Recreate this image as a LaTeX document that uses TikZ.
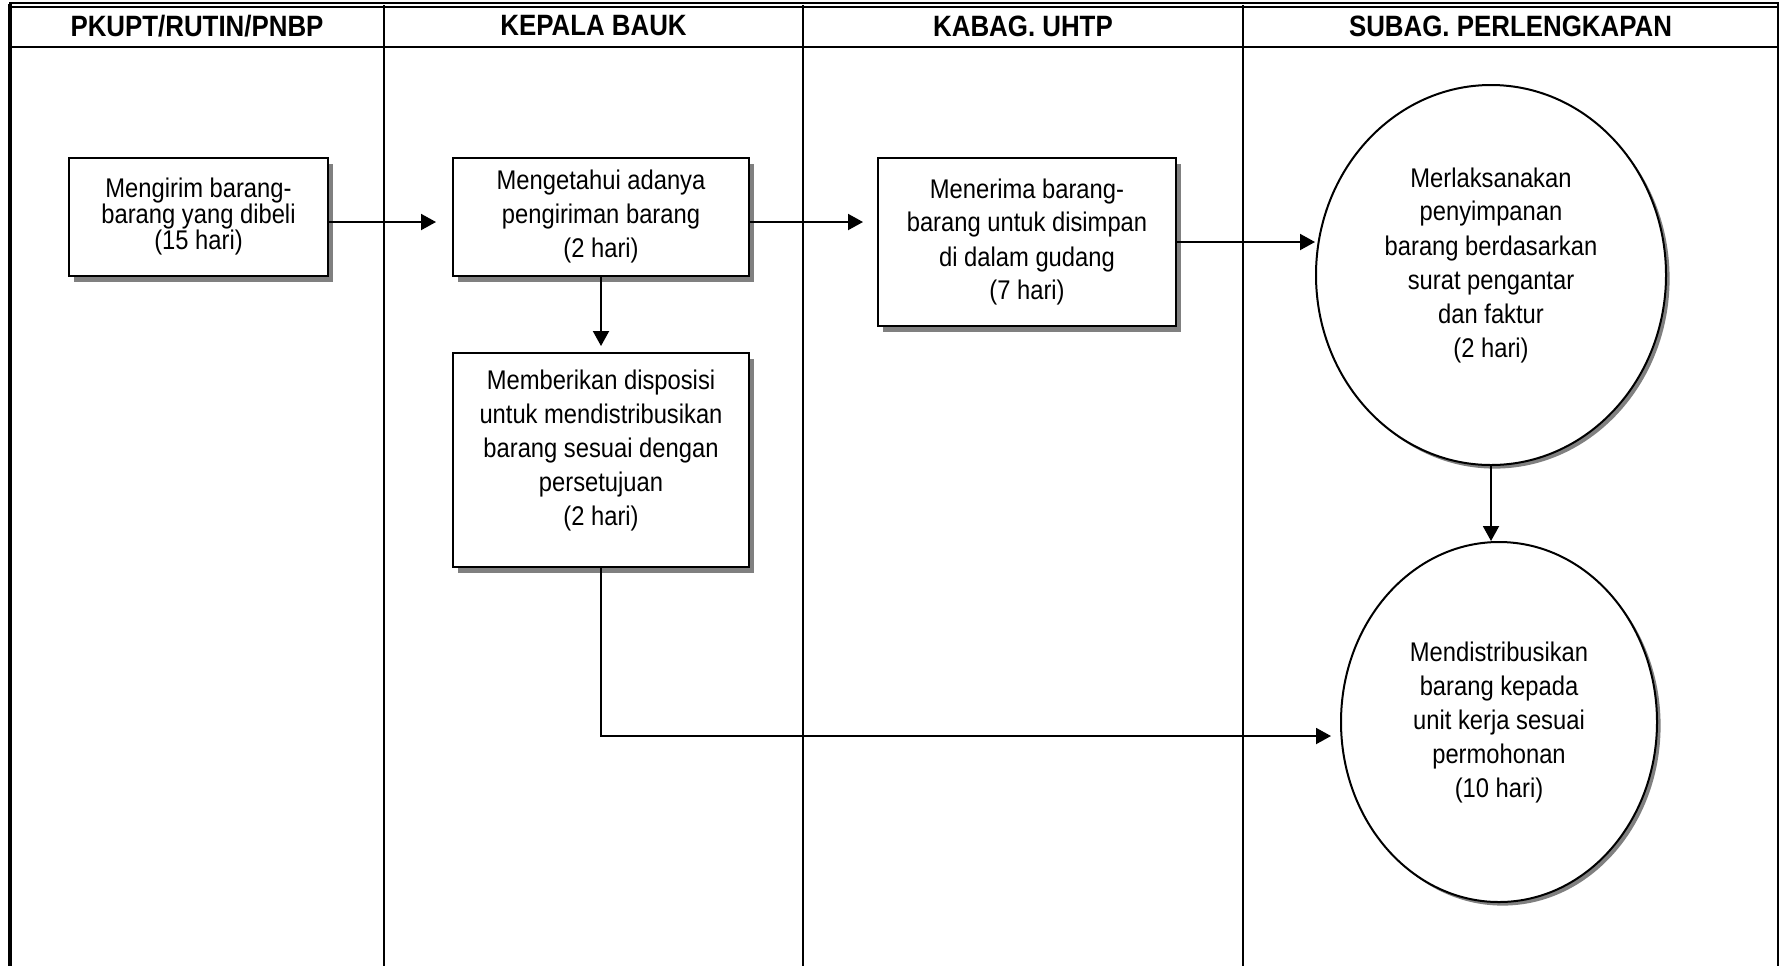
\documentclass[tikz,border=0pt]{standalone}
\usepackage{fontspec}
\setmainfont{Liberation Sans}[FakeStretch=0.88]
\usetikzlibrary{arrows.meta, positioning, shapes.geometric, shadows}

\begin{document}
\begin{tikzpicture}[x=0.5pt, y=-0.5pt,
  lane/.style={line width=1.1pt},
  lanehead/.style={font=\fontsize{14.7}{17}\selectfont\bfseries},
  procbox/.style={rectangle, draw, line width=1pt, fill=white, inner sep=0pt,
    align=center, font=\fontsize{13.5}{17}\selectfont,
    drop shadow={shadow xshift=2.6pt, shadow yshift=-2.8pt, fill=black!50, opacity=1}},
  procell/.style={ellipse, draw, line width=1pt, fill=white, inner sep=0pt,
    align=center, font=\fontsize{13.5}{17}\selectfont,
    drop shadow={shadow xshift=1.8pt, shadow yshift=-1.8pt, fill=black!50, opacity=1}},
  proctext/.style={align=center, inner sep=0pt, font=\fontsize{13.5}{17}\selectfont},
  ->/.style={-{Triangle[length=7.5pt, width=8pt]}, line width=1pt}]
  \useasboundingbox (0,0) rectangle (1782,966);
  \draw[double, double distance=1.2pt, line width=0.7pt] (9,5) -- (1779,5);
  \draw[line width=1.6pt] (10,4) -- (10,966);
  \draw[line width=1.3pt] (1778,4) -- (1778,966);
  \draw[lane] (10,47) -- (1778,47);
  \draw[lane] (384,5) -- (384,966);
  \draw[lane] (803,5) -- (803,966);
  \draw[lane] (1243,5) -- (1243,966);
  \node[lanehead] (h1) at (197,26) {PKUPT/RUTIN/PNBP};
  \node[lanehead] (h2) at (593.5,26) {KEPALA BAUK};
  \node[lanehead] (h3) at (1023,26) {KABAG. UHTP};
  \node[lanehead] (h4) at (1510.5,26) {SUBAG. PERLENGKAPAN};

  \node[procbox, minimum width=129.5pt, minimum height=59pt, font=\fontsize{13.5}{13}\selectfont]
    (kirim) at (198.5,217) {Mengirim barang-\\barang yang dibeli\\(15 hari)};
  \node[procbox, minimum width=148pt, minimum height=59pt]
    (ketahui) at (601,217) {Mengetahui adanya\\pengiriman barang\\(2 hari)};
  \node[procbox, minimum width=149pt, minimum height=84pt]
    (terima) at (1027,242) {Menerima barang-\\barang untuk disimpan\\di dalam gudang\\(7 hari)};
  \node[procbox, minimum width=148pt, minimum height=107pt]
    (beri) at (601,460) {};
  \node[proctext] (beritxt) at ([yshift=5pt]beri.center)
    {Memberikan disposisi\\untuk mendistribusikan\\barang sesuai dengan\\persetujuan\\(2 hari)};
  \node[procell, minimum width=175pt, minimum height=190pt]
    (simpan) at (1491,275) {};
  \node[proctext] (simpantxt) at ([yshift=5pt]simpan.center)
    {Merlaksanakan\\penyimpanan\\barang berdasarkan\\surat pengantar\\dan faktur\\(2 hari)};
  \node[procell, minimum width=158pt, minimum height=180pt]
    (salur) at (1499,722) {Mendistribusikan\\barang kepada\\unit kerja sesuai\\permohonan\\(10 hari)};

  \draw[->, shorten >=8pt] ([yshift=-2.5pt]kirim.east) -- ([yshift=-2.5pt]ketahui.west);
  \draw[->, shorten >=7pt] ([yshift=-2.5pt]ketahui.east) -- ([yshift=-2.5pt]ketahui.east -| terima.west);
  \draw[->] (terima.east) -- (terima.east -| simpan.west);
  \draw[->, shorten >=3pt] (ketahui) -- (beri);
  \draw[->] (simpan.south) -- (simpan.south |- salur.north);
  \draw[->, shorten >=4.5pt] (beri.south) |- ([yshift=-7pt]salur.west);
\end{tikzpicture}
\end{document}
